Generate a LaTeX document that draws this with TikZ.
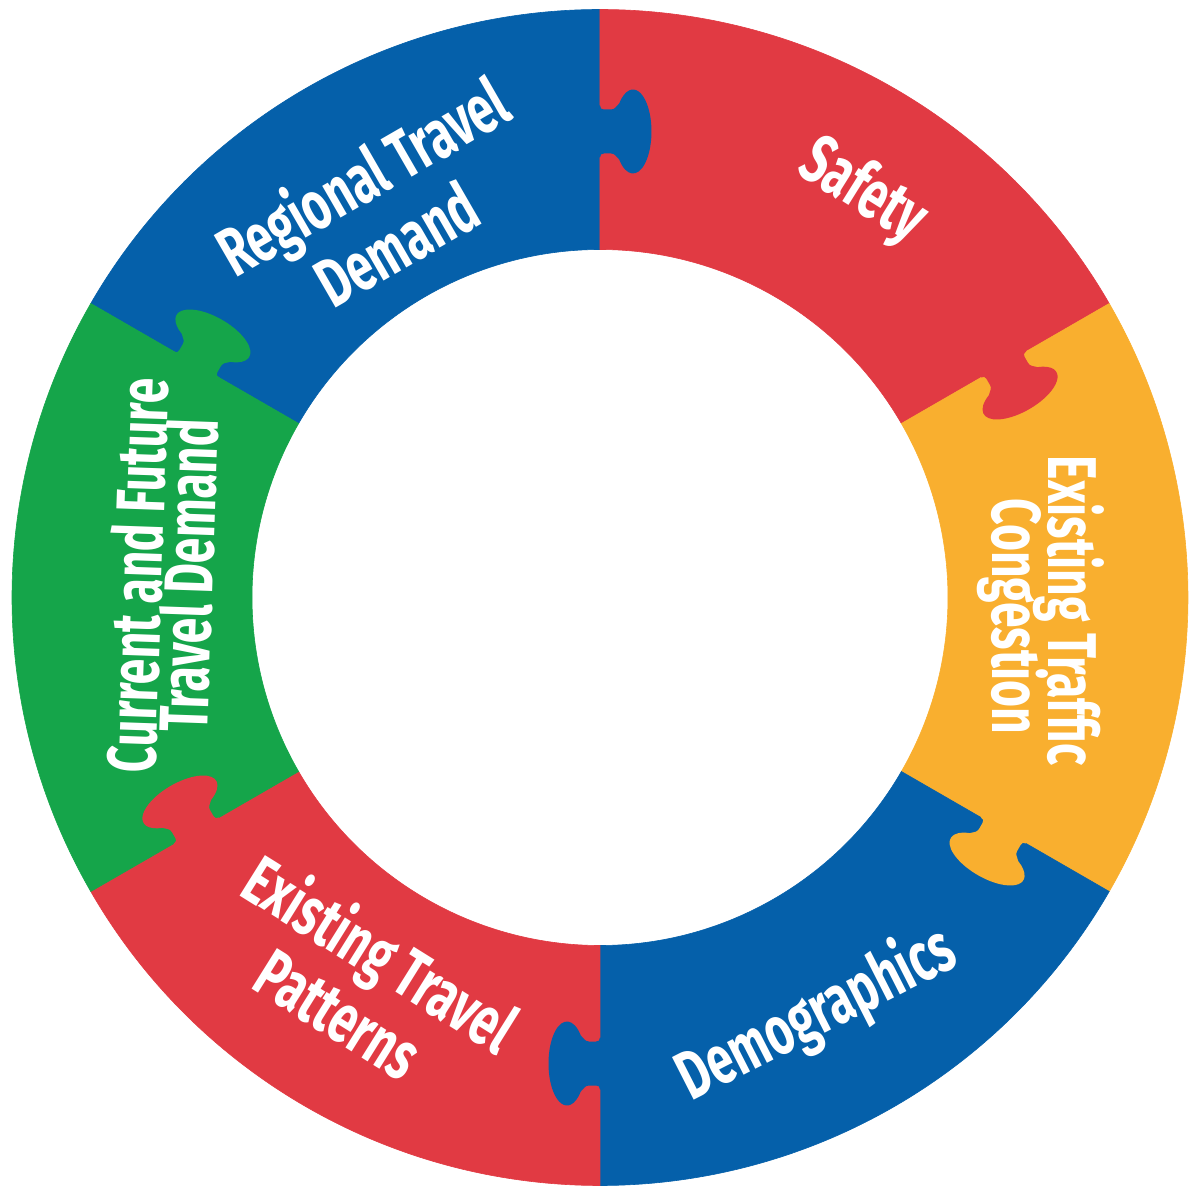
\documentclass[tikz,border=0pt]{standalone}
\usepackage{fontspec}
\usepackage{graphicx}
\newfontfamily\labfont{Fira Sans}
\newcommand{\narrowtxt}[1]{\scalebox{0.67}[1]{#1}}
\definecolor{pblue}{HTML}{0560AA}
\definecolor{pred}{HTML}{E13A43}
\definecolor{porange}{HTML}{F9AF2F}
\definecolor{pgreen}{HTML}{15A54A}
\begin{document}
\begin{tikzpicture}[x=1pt,y=1pt,
  lab/.style={text=white, font=\labfont\bfseries\fontsize{69}{69}\selectfont,
    inner sep=0pt, anchor=center, text height=48pt, text depth=0pt}]
\useasboundingbox (-600,-598.5) rectangle (600,597.5);
% ring sectors
\foreach \a/\c in {90/pblue, 30/pred, -30/porange, -90/pblue, -150/pred, 150/pgreen}{
  \fill[\c, draw=\c, line width=0.6pt] (\a:348) arc[start angle=\a, end angle=\a+60, radius=348]
    -- ({\a+60}:588) arc[start angle=\a+60, end angle=\a, radius=588] -- cycle;
}
% puzzle tabs (each segment pushes a tab clockwise into its neighbour)
\foreach \a/\c in {90/pblue, 30/pred, -30/porange, -90/pblue, -150/pred, 150/pgreen}{
  \begin{scope}[rotate=\a]
    \fill[\c] (440,3) -- (440,0) .. controls (443,0) and (444,-1.5) .. (444,-4)
      -- (444,-11) .. controls (444,-15) and (441,-16) .. (438,-19.2)
      arc[start angle=131.8, end angle=408.2, x radius=42, y radius=18.5]
      .. controls (491,-16) and (488,-15) .. (488,-11)
      -- (488,-4) .. controls (488,-1.5) and (489,0) .. (492,0) -- (492,3) -- cycle;
  \end{scope}
}
% labels
\node[lab, rotate=30] (regional1) at (-237,420) {\narrowtxt{Regional Travel}};
\node[lab, rotate=30] (regional2) at (-203,352) {\narrowtxt{Demand}};
\node[lab, rotate=-32] (safety) at (265,410) {\narrowtxt{Safety}};
\node[lab, rotate=-90] (congestion1) at (472,-13) {\narrowtxt{Existing Traffic}};
\node[lab, rotate=-90] (congestion2) at (416,-19) {\narrowtxt{Congestion}};
\node[lab, rotate=27] (demog) at (215,-414) {\narrowtxt{Demographics}};
\node[lab, rotate=-32] (patterns1) at (-220,-357) {\narrowtxt{Existing Travel}};
\node[lab, rotate=-32] (patterns2) at (-262,-417) {\narrowtxt{Patterns}};
\node[lab, rotate=88] (demand1) at (-462,22) {\narrowtxt{Current and Future}};
\node[lab, rotate=88] (demand2) at (-411,22) {\narrowtxt{Travel Demand}};
\end{tikzpicture}
\end{document}
